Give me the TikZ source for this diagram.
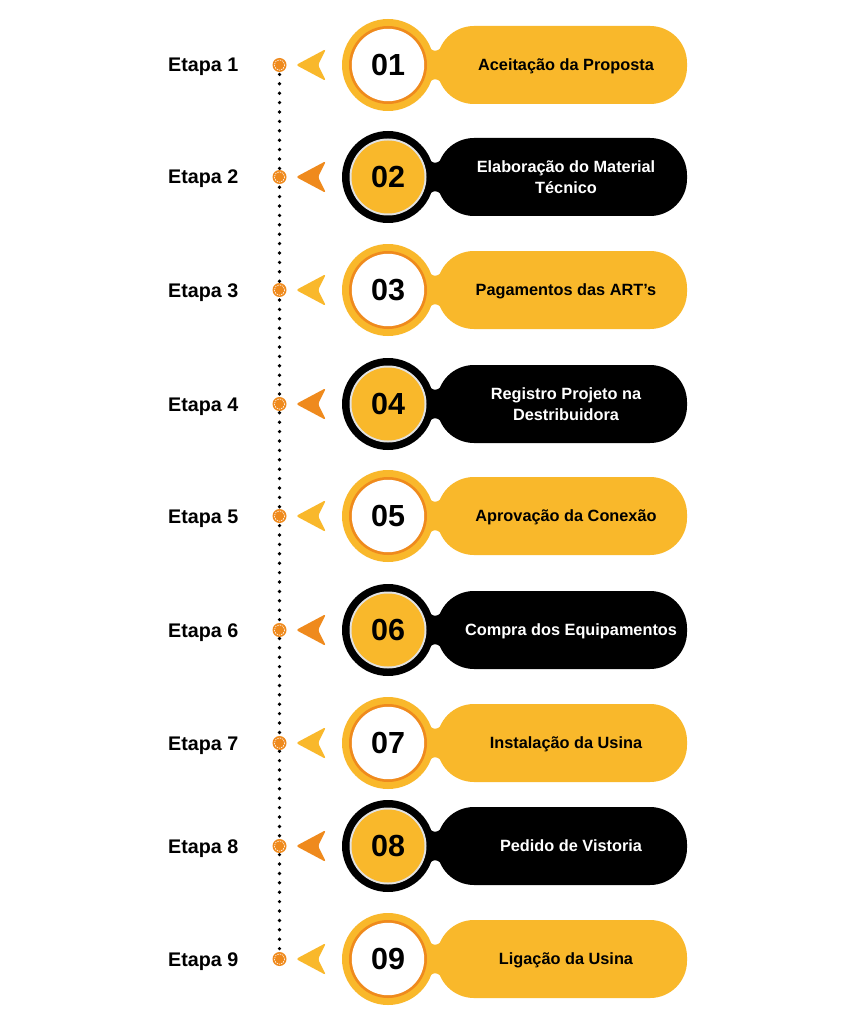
\documentclass[tikz,border=0pt]{standalone}
\usepackage{fontspec}
\setmainfont{Liberation Sans}
\definecolor{ylw}{HTML}{F9B82B}
\definecolor{org}{HTML}{EF8A1D}
\definecolor{ringgray}{HTML}{E2E2E2}
\pgfdeclarelayer{bg}
\pgfsetlayers{bg,main}
\tikzset{
  etapalabel/.style={anchor=base west, inner sep=0pt, font=\bfseries\fontsize{19.7}{22}\selectfont},
  numtext/.style={anchor=base, inner sep=0pt, font=\bfseries\fontsize{30.5}{32}\selectfont},
  pilltext/.style={anchor=base, inner sep=0pt, align=center, font=\bfseries\fontsize{16.3}{21}\selectfont},
  dotnode/.style={circle, fill=org, minimum size=14pt, inner sep=0pt},
  dotring/.style={draw=white, line width=0.6pt, dash pattern=on 1.4pt off 1pt},
  dotline/.style={draw=black, line width=3.7pt, line cap=round, dash pattern=on 0pt off 9.4pt},
  chevron/.style={rounded corners=2.5pt},
}
% light row: #1 index, #2 y
\newcommand{\lightrow}[2]{%
  \node[etapalabel] (lab#1) at (168,#2+7) {Etapa #1};
  \node[dotnode] (d#1) at (279.5,#2) {};
  \draw[dotring] (d#1.center) circle (5.2);
  \fill[ylw, chevron] (296,#2) -- (326,#2-16) -- (318,#2) -- (326,#2+16) -- cycle;
  \fill[ylw, rounded corners=37] (437,#2-39) rectangle (687,#2+39);
  \fill[ylw] (427,#2-21) .. controls (432,#2-12) and (438,#2-12) .. (444,#2-21) -- (444,#2+21) .. controls (438,#2+12) and (432,#2+12) .. (427,#2+21) -- cycle;
  \fill[ylw] (388,#2) circle (46);
  \fill[org] (388,#2) circle (39);
  \fill[white] (388,#2) circle (36.2);
  \node[numtext] (n#1) at (388,#2+10.9) {0#1};
}
% dark row
\newcommand{\darkrow}[2]{%
  \node[etapalabel] (lab#1) at (168,#2+7) {Etapa #1};
  \node[dotnode] (d#1) at (279.5,#2) {};
  \draw[dotring] (d#1.center) circle (5.2);
  \fill[org, chevron] (296,#2) -- (326,#2-16) -- (318,#2) -- (326,#2+16) -- cycle;
  \fill[black, rounded corners=37] (437,#2-39) rectangle (687,#2+39);
  \fill[black] (427,#2-21) .. controls (432,#2-12) and (438,#2-12) .. (444,#2-21) -- (444,#2+21) .. controls (438,#2+12) and (432,#2+12) .. (427,#2+21) -- cycle;
  \fill[black] (388,#2) circle (46);
  \fill[ringgray] (388,#2) circle (38.5);
  \fill[ylw] (388,#2) circle (36.5);
  \node[numtext] (n#1) at (388,#2+10.9) {0#1};
}
\begin{document}
\begin{tikzpicture}[x=1pt,y=-1pt]
\begin{pgfonlayer}{bg}
\fill[white] (0,0) rectangle (851,1024);
\end{pgfonlayer}
\useasboundingbox (0,0) rectangle (851,1024);
\lightrow{1}{65}
\node[pilltext] (t1) at (566,65+5.8) {Aceitação da Proposta};
\darkrow{2}{177}
\node[pilltext, text=white] (t2) at (566,177+10.5+5.8) {Elaboração do Material\\Técnico};
\lightrow{3}{290}
\node[pilltext] (t3) at (566,290+5.8) {Pagamentos das ART’s};
\darkrow{4}{404}
\node[pilltext, text=white] (t4) at (566,404+10.5+5.8) {Registro Projeto na\\Destribuidora};
\lightrow{5}{516}
\node[pilltext] (t5) at (566,516+5.8) {Aprovação da Conexão};
\darkrow{6}{630}
\node[pilltext, text=white] (t6) at (571,630+5.8) {Compra dos Equipamentos};
\lightrow{7}{743}
\node[pilltext] (t7) at (566,743+5.8) {Instalação da Usina};
\darkrow{8}{846}
\node[pilltext, text=white] (t8) at (571,846+5.8) {Pedido de Vistoria};
\lightrow{9}{959}
\node[pilltext] (t9) at (566,959+5.8) {Ligação da Usina};
\begin{pgfonlayer}{bg}
\draw[dotline] (d1.center) -- (d9.center);
\end{pgfonlayer}
\end{tikzpicture}
\end{document}
